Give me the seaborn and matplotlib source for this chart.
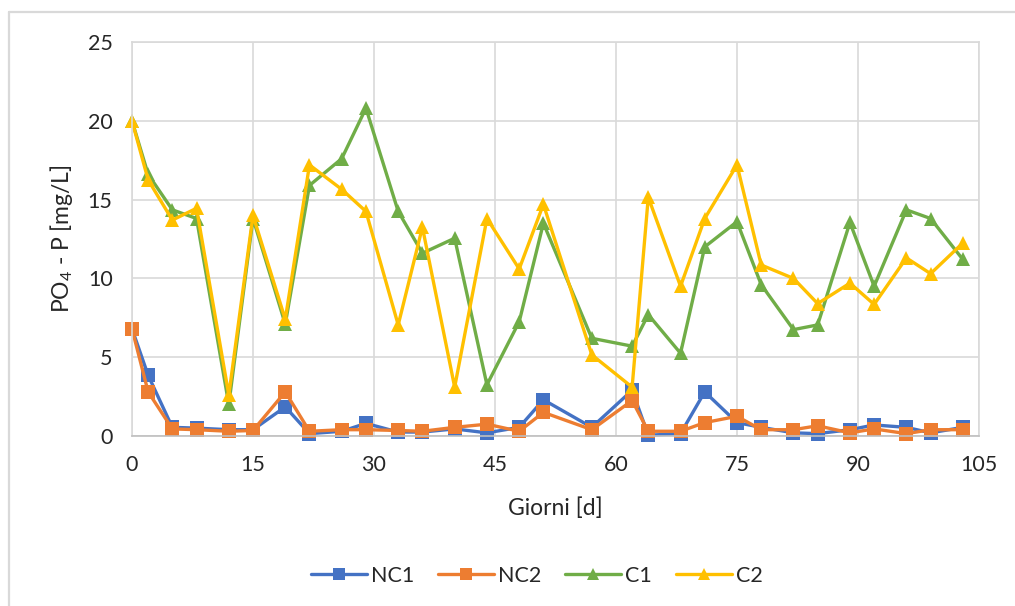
import matplotlib
matplotlib.use("Agg")
import matplotlib.pyplot as plt
from matplotlib.lines import Line2D
import pandas as pd
import seaborn as sns

# Sampling days and PO4-P concentrations (mg/L) for each reactor
giorni = [0, 2, 5, 8, 12, 15, 19, 22, 26, 29, 33, 36, 40, 44, 48, 51, 57, 62,
          64, 68, 71, 75, 78, 82, 85, 89, 92, 96, 99, 103]
nc1 = [6.8, 3.85, 0.55, 0.5, 0.4, 0.4, 1.85, 0.15, 0.3, 0.8, 0.25, 0.25, 0.45,
       0.2, 0.55, 2.3, 0.55, 2.9, 0.05, 0.15, 2.8, 0.85, 0.55, 0.2, 0.15, 0.4,
       0.7, 0.55, 0.2, 0.55]
nc2 = [6.8, 2.8, 0.45, 0.4, 0.3, 0.35, 2.8, 0.3, 0.4, 0.4, 0.35, 0.3, 0.55,
       0.75, 0.3, 1.5, 0.4, 2.25, 0.3, 0.3, 0.85, 1.25, 0.4, 0.4, 0.65, 0.2,
       0.45, 0.15, 0.4, 0.4]
c1 = [20.0, 16.6, 14.35, 13.8, 2.0, 13.8, 7.1, 15.9, 17.6, 20.8, 14.25, 11.6,
      12.55, 3.25, 7.25, 13.5, 6.2, 5.7, 7.7, 5.25, 12.0, 13.6, 9.6, 6.75, 7.05,
      13.55, 9.5, 14.35, 13.8, 11.2]
c2 = [20.0, 16.25, 13.7, 14.45, 2.6, 14.0, 7.4, 17.2, 15.65, 14.25, 7.05, 13.25,
      3.1, 13.8, 10.6, 14.7, 5.15, 3.1, 15.15, 9.5, 13.8, 17.2, 10.85, 10.0, 8.4,
      9.7, 8.35, 11.3, 10.3, 12.25]

serie = ["NC1", "NC2", "C1", "C2"]
colori = {"NC1": "#4472C4", "NC2": "#ED7D31", "C1": "#70AD47", "C2": "#FFC000"}
marcatori = {"NC1": "s", "NC2": "s", "C1": "^", "C2": "^"}
x_ticks = [0, 15, 30, 45, 60, 75, 90, 105]
y_ticks = [0, 5, 10, 15, 20, 25]

df = pd.concat([
    pd.DataFrame({"Giorni": giorni, "PO4": vals, "Serie": name})
    for name, vals in zip(serie, [nc1, nc2, c1, c2])
], ignore_index=True)

sns.set_theme(style="white")
plt.rcParams["font.family"] = ["Lato", "DejaVu Sans"]
plt.rcParams["mathtext.default"] = "regular"
txt = "#262626"
grid = "#D9D9D9"

fig = plt.figure(figsize=(10.15, 6.06), dpi=100)
ax = fig.add_axes([132 / 1015, 1 - 436 / 606, 847 / 1015, 394 / 606])

sns.lineplot(data=df, x="Giorni", y="PO4", hue="Serie", style="Serie",
             hue_order=serie, style_order=serie, palette=colori,
             markers=marcatori, dashes=False, linewidth=2.4, markersize=10,
             markeredgewidth=0, clip_on=False, ax=ax, sort=False)

ax.set_xlim(0, 105)
ax.set_ylim(0, 25)
ax.set_xticks(x_ticks)
ax.set_yticks(y_ticks)
ax.grid(True, color=grid, linewidth=1.2)
ax.set_axisbelow(True)
for s in ax.spines.values():
    s.set_color(grid)
    s.set_linewidth(1.2)
ax.spines["bottom"].set_color("#BFBFBF")
ax.tick_params(axis="both", length=0, labelsize=15.5, labelcolor=txt)
ax.tick_params(axis="y", pad=14)
ax.tick_params(axis="x", pad=14)
ax.set_xlabel("Giorni [d]", fontsize=16.5, color=txt, labelpad=16)
ax.set_ylabel("PO$_4$ - P [mg/L]", fontsize=16.5, color=txt, labelpad=9)

sns.move_legend(ax, "center", bbox_to_anchor=(0.478, -0.355), ncol=4,
                frameon=False, title=None, fontsize=15.5, handlelength=2.6,
                handletextpad=0.2, columnspacing=1.1)
leg = ax.get_legend()
for h in leg.legend_handles:
    h.set_markersize(9)
for t in leg.get_texts():
    t.set_color(txt)

# outer chart frame
fig.add_artist(Line2D([9 / 1015, 9 / 1015], [0, 1 - 12 / 606],
                      transform=fig.transFigure, color=grid, linewidth=1.6))
fig.add_artist(Line2D([9 / 1015, 1], [1 - 12 / 606, 1 - 12 / 606],
                      transform=fig.transFigure, color=grid, linewidth=1.6))

fig.savefig("out.png", dpi=100)
